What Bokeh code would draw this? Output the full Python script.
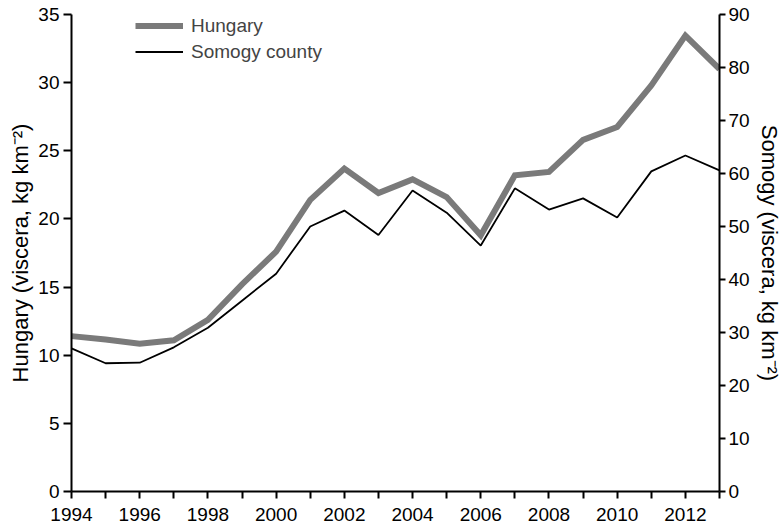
from bokeh.plotting import figure
from bokeh.models import Range1d, LinearAxis, FixedTicker, Legend, LegendItem
from bokeh.embed import file_html
from bokeh.resources import INLINE

years = list(range(1994, 2014))
hungary = [11.4, 11.15, 10.85, 11.1, 12.6, 15.2, 17.6, 21.4, 23.7, 21.9,
           22.9, 21.6, 18.8, 23.2, 23.45, 25.8, 26.75, 29.8, 33.45, 31.0]
somogy = [27.0, 24.2, 24.3, 27.2, 30.9, 36.0, 41.1, 50.0, 53.0, 48.4,
          56.8, 52.6, 46.4, 57.2, 53.2, 55.3, 51.7, 60.4, 63.4, 60.6]
series_names = ["Hungary", "Somogy county"]
left_label = "Hungary (viscera, kg km\u207b\u00b2)"
right_label = "Somogy (viscera, kg km\u207b\u00b2)"
left_ticks = [0, 5, 10, 15, 20, 25, 30, 35]
right_ticks = [0, 10, 20, 30, 40, 50, 60, 70, 80, 90]

FONT = "Liberation Sans"

p = figure(width=784, height=529, output_backend="svg", toolbar_location=None,
           x_range=Range1d(1994, 2013), y_range=Range1d(0, 35),
           min_border_left=71, min_border_right=64, min_border_top=14, min_border_bottom=38)
p.extra_y_ranges = {"somogy": Range1d(0, 90)}
p.xgrid.visible = False
p.ygrid.visible = False
p.outline_line_color = None
p.background_fill_color = "white"
p.border_fill_color = "white"

r1 = p.line(years, hungary, line_color="#7a7a7a", line_width=6, line_join="miter")
r2 = p.line(years, somogy, line_color="black", line_width=1.8, y_range_name="somogy")

def style(ax, tick_out=7):
    ax.axis_line_width = 2
    ax.axis_line_color = "black"
    ax.major_tick_line_width = 2
    ax.major_tick_line_color = "black"
    ax.major_tick_in = 0
    ax.major_tick_out = tick_out
    ax.minor_tick_line_color = None
    ax.major_label_text_font = FONT
    ax.major_label_text_font_size = "19px"
    ax.major_label_text_color = "black"
    ax.axis_label_text_font = FONT
    ax.axis_label_text_font_size = "22px"
    ax.axis_label_text_font_style = "normal"
    ax.axis_label_text_color = "black"

# x axis
xa = p.xaxis[0]
style(xa, 7)
xa.ticker = FixedTicker(ticks=years)
xa.major_label_overrides = {y: (str(y) if y % 2 == 0 else "") for y in years}
xa.major_label_standoff = 9

# left axis
ya = p.yaxis[0]
style(ya, 8)
ya.ticker = FixedTicker(ticks=left_ticks)
ya.axis_label = left_label
ya.major_label_standoff = 4
ya.axis_label_standoff = 2

# right axis
ra = LinearAxis(y_range_name="somogy")
style(ra, 6)
ra.ticker = FixedTicker(ticks=right_ticks)
ra.axis_label = right_label
ra.major_label_standoff = 3
ra.axis_label_standoff = 4
p.add_layout(ra, "right")

legend = Legend(items=[LegendItem(label=series_names[0], renderers=[r1]),
                       LegendItem(label=series_names[1], renderers=[r2])],
                location=(64, 428), margin=0, padding=0, spacing=3,
                glyph_width=48, glyph_height=23, label_height=23,
                label_standoff=8, label_text_font=FONT, label_text_font_size="19px",
                border_line_color=None, background_fill_alpha=0)
p.add_layout(legend)

open("out.html", "w").write(file_html(p, INLINE))
